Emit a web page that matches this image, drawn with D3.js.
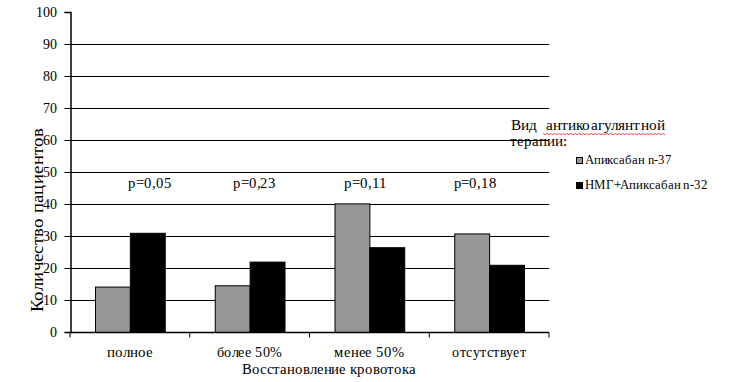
<!DOCTYPE html>
<html>
<head>
<meta charset="utf-8">
<script src="https://cdn.jsdelivr.net/npm/d3@7"></script>
<style>
  @font-face { font-family: 'LSerif'; src: local('Liberation Serif'), local('LiberationSerif'), local('LiberationSerif-Regular'); }
  body { margin: 0; background: #fff; }
</style>
</head>
<body>
<div id="chart"></div>
<script>
const categories = ['полное', 'более 50%', 'менее 50%', 'отсутствует'];
const seriesNames = ['Апиксабан n-37', 'НМГ+Апиксабан n-32'];
const apixaban = [14.2, 14.6, 40.2, 30.8];
const lmwhApixaban = [31, 22, 26.5, 21];
const pValues = ['p=0,05', 'p=0,23', 'p=0,11', 'p=0,18'];
const yTicks = [0, 10, 20, 30, 40, 50, 60, 70, 80, 90, 100];

const width = 731, height = 382;
const margin = { top: 12, right: 182, bottom: 50, left: 70 };
const innerW = width - margin.left - margin.right;
const innerH = height - margin.top - margin.bottom;
const FONT = 'LSerif, Liberation Serif, Times New Roman, serif';

function draw() {
  d3.select('#chart').selectAll('*').remove();

  const svg = d3.select('#chart').append('svg')
    .attr('width', width)
    .attr('height', height)
    .attr('font-family', FONT);

  const g = svg.append('g')
    .attr('transform', `translate(${margin.left},${margin.top})`);

  const x = d3.scaleBand().domain(categories).range([0, innerW]);
  const xSub = d3.scaleBand().domain(seriesNames).range([25, x.bandwidth() - 25]);
  const y = d3.scaleLinear().domain([0, 100]).range([innerH, 0]);
  const color = d3.scaleOrdinal().domain(seriesNames).range(['#969696', '#000']);

  // Grid lines (none at 0 or 100)
  g.append('g')
    .selectAll('line')
    .data(yTicks.filter(d => d > 0 && d < 100))
    .join('line')
    .attr('x1', 0)
    .attr('x2', innerW)
    .attr('y1', d => Math.round(y(d)) + 0.5)
    .attr('y2', d => Math.round(y(d)) + 0.5)
    .attr('stroke', '#000');

  // Bars
  const rows = categories.map((c, i) => ({ cat: c, values: [apixaban[i], lmwhApixaban[i]] }));
  g.append('g')
    .selectAll('g')
    .data(rows)
    .join('g')
    .attr('transform', d => `translate(${x(d.cat)},0)`)
    .selectAll('rect')
    .data(d => d.values.map((v, k) => ({ name: seriesNames[k], v })))
    .join('rect')
    .attr('x', d => xSub(d.name) + 0.5)
    .attr('y', d => y(d.v) + 0.5)
    .attr('width', xSub.bandwidth())
    .attr('height', d => y(0) - y(d.v))
    .attr('fill', d => color(d.name))
    .attr('stroke', '#000')
    .attr('stroke-width', 1);

  // Y axis
  const yAxis = g.append('g')
    .attr('transform', 'translate(0.5,0)')
    .call(d3.axisLeft(y).tickValues(yTicks).tickSize(6).tickPadding(8));
  yAxis.attr('font-family', FONT);
  yAxis.select('.domain').attr('stroke', '#000').attr('stroke-width', 1.5);
  yAxis.selectAll('text')
    .attr('font-family', FONT)
    .attr('font-size', 14)
    .attr('fill', '#000');

  // X axis
  const xAxis = g.append('g')
    .attr('transform', `translate(0,${innerH + 0.5})`);
  xAxis.append('line')
    .attr('x1', 0).attr('x2', innerW)
    .attr('stroke', '#000').attr('stroke-width', 1.5);
  xAxis.selectAll('line.tk')
    .data(d3.range(categories.length + 1))
    .join('line')
    .attr('class', 'tk')
    .attr('x1', i => i < categories.length ? x(categories[i]) : innerW)
    .attr('x2', i => i < categories.length ? x(categories[i]) : innerW)
    .attr('y1', 0).attr('y2', 5)
    .attr('stroke', '#000');
  const catWidths = [46, 66, 70, 74];
  xAxis.selectAll('text')
    .data(categories)
    .join('text')
    .attr('x', d => x(d) + x.bandwidth() / 2)
    .attr('y', 24)
    .attr('text-anchor', 'middle')
    .attr('font-family', FONT)
    .attr('font-size', 15)
    .attr('textLength', (d, i) => catWidths[i])
    .attr('lengthAdjust', 'spacingAndGlyphs')
    .text(d => d);

  // p-value annotations
  const pOffsets = [20, 5, -4, -14];
  g.append('g')
    .selectAll('text')
    .data(pValues)
    .join('text')
    .attr('x', (d, i) => x(categories[i]) + x.bandwidth() / 2 + pOffsets[i])
    .attr('y', y(45))
    .attr('text-anchor', 'middle')
    .attr('font-family', FONT)
    .attr('font-size', 15)
    .attr('textLength', 43)
    .attr('lengthAdjust', 'spacingAndGlyphs')
    .text(d => d);

  // Axis titles
  svg.append('text')
    .attr('transform', 'translate(43,220) rotate(-90)')
    .attr('text-anchor', 'middle')
    .attr('font-family', FONT)
    .attr('font-size', 18)
    .attr('textLength', 184)
    .attr('lengthAdjust', 'spacingAndGlyphs')
    .text('Количество пациентов');

  svg.append('text')
    .attr('x', 329)
    .attr('y', 374)
    .attr('text-anchor', 'middle')
    .attr('font-family', FONT)
    .attr('font-size', 15)
    .attr('textLength', 174)
    .attr('lengthAdjust', 'spacingAndGlyphs')
    .text('Восстановление кровотока');

  // Legend
  const legend = svg.append('g');
  legend.append('text')
    .attr('x', 511).attr('y', 130)
    .attr('font-family', FONT)
    .attr('font-size', 15)
    .attr('xml:space', 'preserve')
    .attr('textLength', 154)
    .attr('lengthAdjust', 'spacingAndGlyphs')
    .text('Вид  антикоагулянтной');
  // spell-check squiggle under the second word
  const wavy = d3.range(0, 124, 2).map(i => [543 + i, 133.5 + (i % 4 === 0 ? 0 : 1.2)]);
  legend.append('path')
    .attr('d', d3.line()(wavy))
    .attr('fill', 'none')
    .attr('stroke', '#e03030')
    .attr('stroke-width', 0.8);
  legend.append('text')
    .attr('x', 510).attr('y', 146)
    .attr('font-family', FONT)
    .attr('font-size', 15)
    .attr('textLength', 57)
    .attr('lengthAdjust', 'spacingAndGlyphs')
    .text('терапии:');

  const legendWidths = [87, 123];
  seriesNames.forEach((name, i) => {
    const yy = 157 + i * 25;
    legend.append('rect')
      .attr('x', 576.5).attr('y', yy + 0.5)
      .attr('width', 6).attr('height', 6)
      .attr('fill', color(name))
      .attr('stroke', '#000');
    legend.append('text')
      .attr('x', 585).attr('y', yy + 7)
      .attr('font-family', FONT)
      .attr('font-size', 13)
      .attr('textLength', legendWidths[i])
      .attr('lengthAdjust', 'spacingAndGlyphs')
      .text(name);
  });
}

draw();
if (document.fonts && document.fonts.load) {
  document.fonts.load('15px LSerif', 'полное 0123').then(draw).catch(() => {});
}
</script>
</body>
</html>
